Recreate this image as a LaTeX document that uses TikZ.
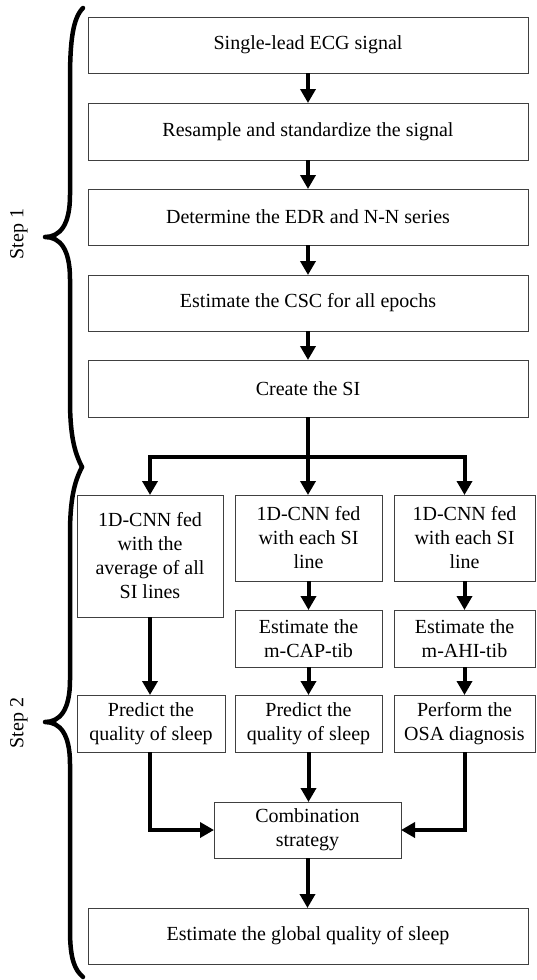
\documentclass[tikz,border=0pt]{standalone}
\usepackage{fontspec}
\setmainfont{Liberation Serif}
\usetikzlibrary{arrows.meta,calc}
\begin{document}
\begin{tikzpicture}[x=1pt,y=-1pt,
  box/.style={draw=black!75,line width=1pt,rectangle,inner sep=2pt,outer sep=0pt,align=center,
    font=\fontsize{20}{24}\selectfont},
  arr/.style={line width=4pt,-{Triangle[length=14pt,width=15pt]},line join=miter},
  conn/.style={line width=4pt,line join=miter},
  bracepath/.style={line width=4.5pt,line cap=round,line join=round},
  lbl/.style={rotate=90,font=\fontsize{20}{24}\selectfont}]
\useasboundingbox (0,0) rectangle (536,980);
% step 1 column
\node[box,minimum width=440pt,minimum height=56pt] (b1) at (308,45) {Single-lead ECG signal};
\node[box,minimum width=440pt,minimum height=57pt] (b2) at (308,131.5) {Resample and standardize the signal};
\node[box,minimum width=440pt,minimum height=56pt] (b3) at (308,217) {Determine the EDR and N-N series};
\node[box,minimum width=440pt,minimum height=56pt] (b4) at (308,303) {Estimate the CSC for all epochs};
\node[box,minimum width=440pt,minimum height=57pt] (b5) at (308,388.5) {Create the SI};
% step 2
\node[box,minimum width=146pt,minimum height=122pt] (c1) at (150,556) {1D-CNN fed\\with the\\average of all\\SI lines};
\node[box,minimum width=147pt,minimum height=86pt] (c2) at (308.5,538) {1D-CNN fed\\with each SI\\line};
\node[box,minimum width=141pt,minimum height=86pt] (c3) at (464.5,538) {1D-CNN fed\\with each SI\\line};
\node[box,minimum width=147pt,minimum height=57pt] (e2) at (308.5,638.5) {Estimate the\\m-CAP-tib};
\node[box,minimum width=141pt,minimum height=57pt] (e3) at (464.5,638.5) {Estimate the\\m-AHI-tib};
\node[box,minimum width=148pt,minimum height=57pt] (p1) at (151,723.5) {Predict the\\quality of sleep};
\node[box,minimum width=147pt,minimum height=57pt] (p2) at (308.5,723.5) {Predict the\\quality of sleep};
\node[box,minimum width=141pt,minimum height=57pt] (p3) at (464.5,723.5) {Perform the\\OSA diagnosis};
\node[box,minimum width=187pt,minimum height=56pt] (comb) at (307.5,830) {Combination\\strategy};
\node[box,minimum width=440pt,minimum height=56pt] (fin) at (308,936) {Estimate the global quality of sleep};
% connectors
\draw[arr] (b1.south) -- (b2.north);
\draw[arr] (b2.south) -- (b3.north);
\draw[arr] (b3.south) -- (b4.north);
\draw[arr] (b4.south) -- (b5.north);
\coordinate (split) at (308,457);
\draw[conn] (b5.south) -- (split);
\draw[arr] (split) -- (split |- c2.north);
\draw[arr] (split) -| (c1.north);
\draw[arr] (split) -| (c3.north);
\draw[arr] (c2.south) -- (e2.north);
\draw[arr] (c3.south) -- (e3.north);
\draw[arr] (c1.south) -- (c1.south |- p1.north);
\draw[arr] (e2.south) -- (p2.north);
\draw[arr] (e3.south) -- (p3.north);
\draw[arr] (p1.south -| c1.south) |- (comb.west);
\draw[arr] (p3.south) |- (comb.east);
\draw[arr] (p2.south) -- (p2.south |- comb.north);
\draw[arr] (comb.south) -- (comb.south |- fin.north);
% braces
\draw[bracepath] (83,8) .. controls (73,18) and (70,40) .. (70,80) -- (70,195)
  .. controls (70,225) and (60,237) .. (45,237)
  .. controls (60,237) and (70,249) .. (70,279) -- (70,400)
  .. controls (70,440) and (76,455) .. (82,467);
\draw[bracepath] (82,467) .. controls (76,479) and (70,494) .. (70,534) -- (70,680)
  .. controls (70,710) and (60,722) .. (45,722)
  .. controls (60,722) and (70,734) .. (70,764) -- (70,930)
  .. controls (70,960) and (75,970) .. (83,977);
\node[lbl] (s1) at (19,234) {Step 1};
\node[lbl] (s2) at (19,723) {Step 2};
\end{tikzpicture}
\end{document}
